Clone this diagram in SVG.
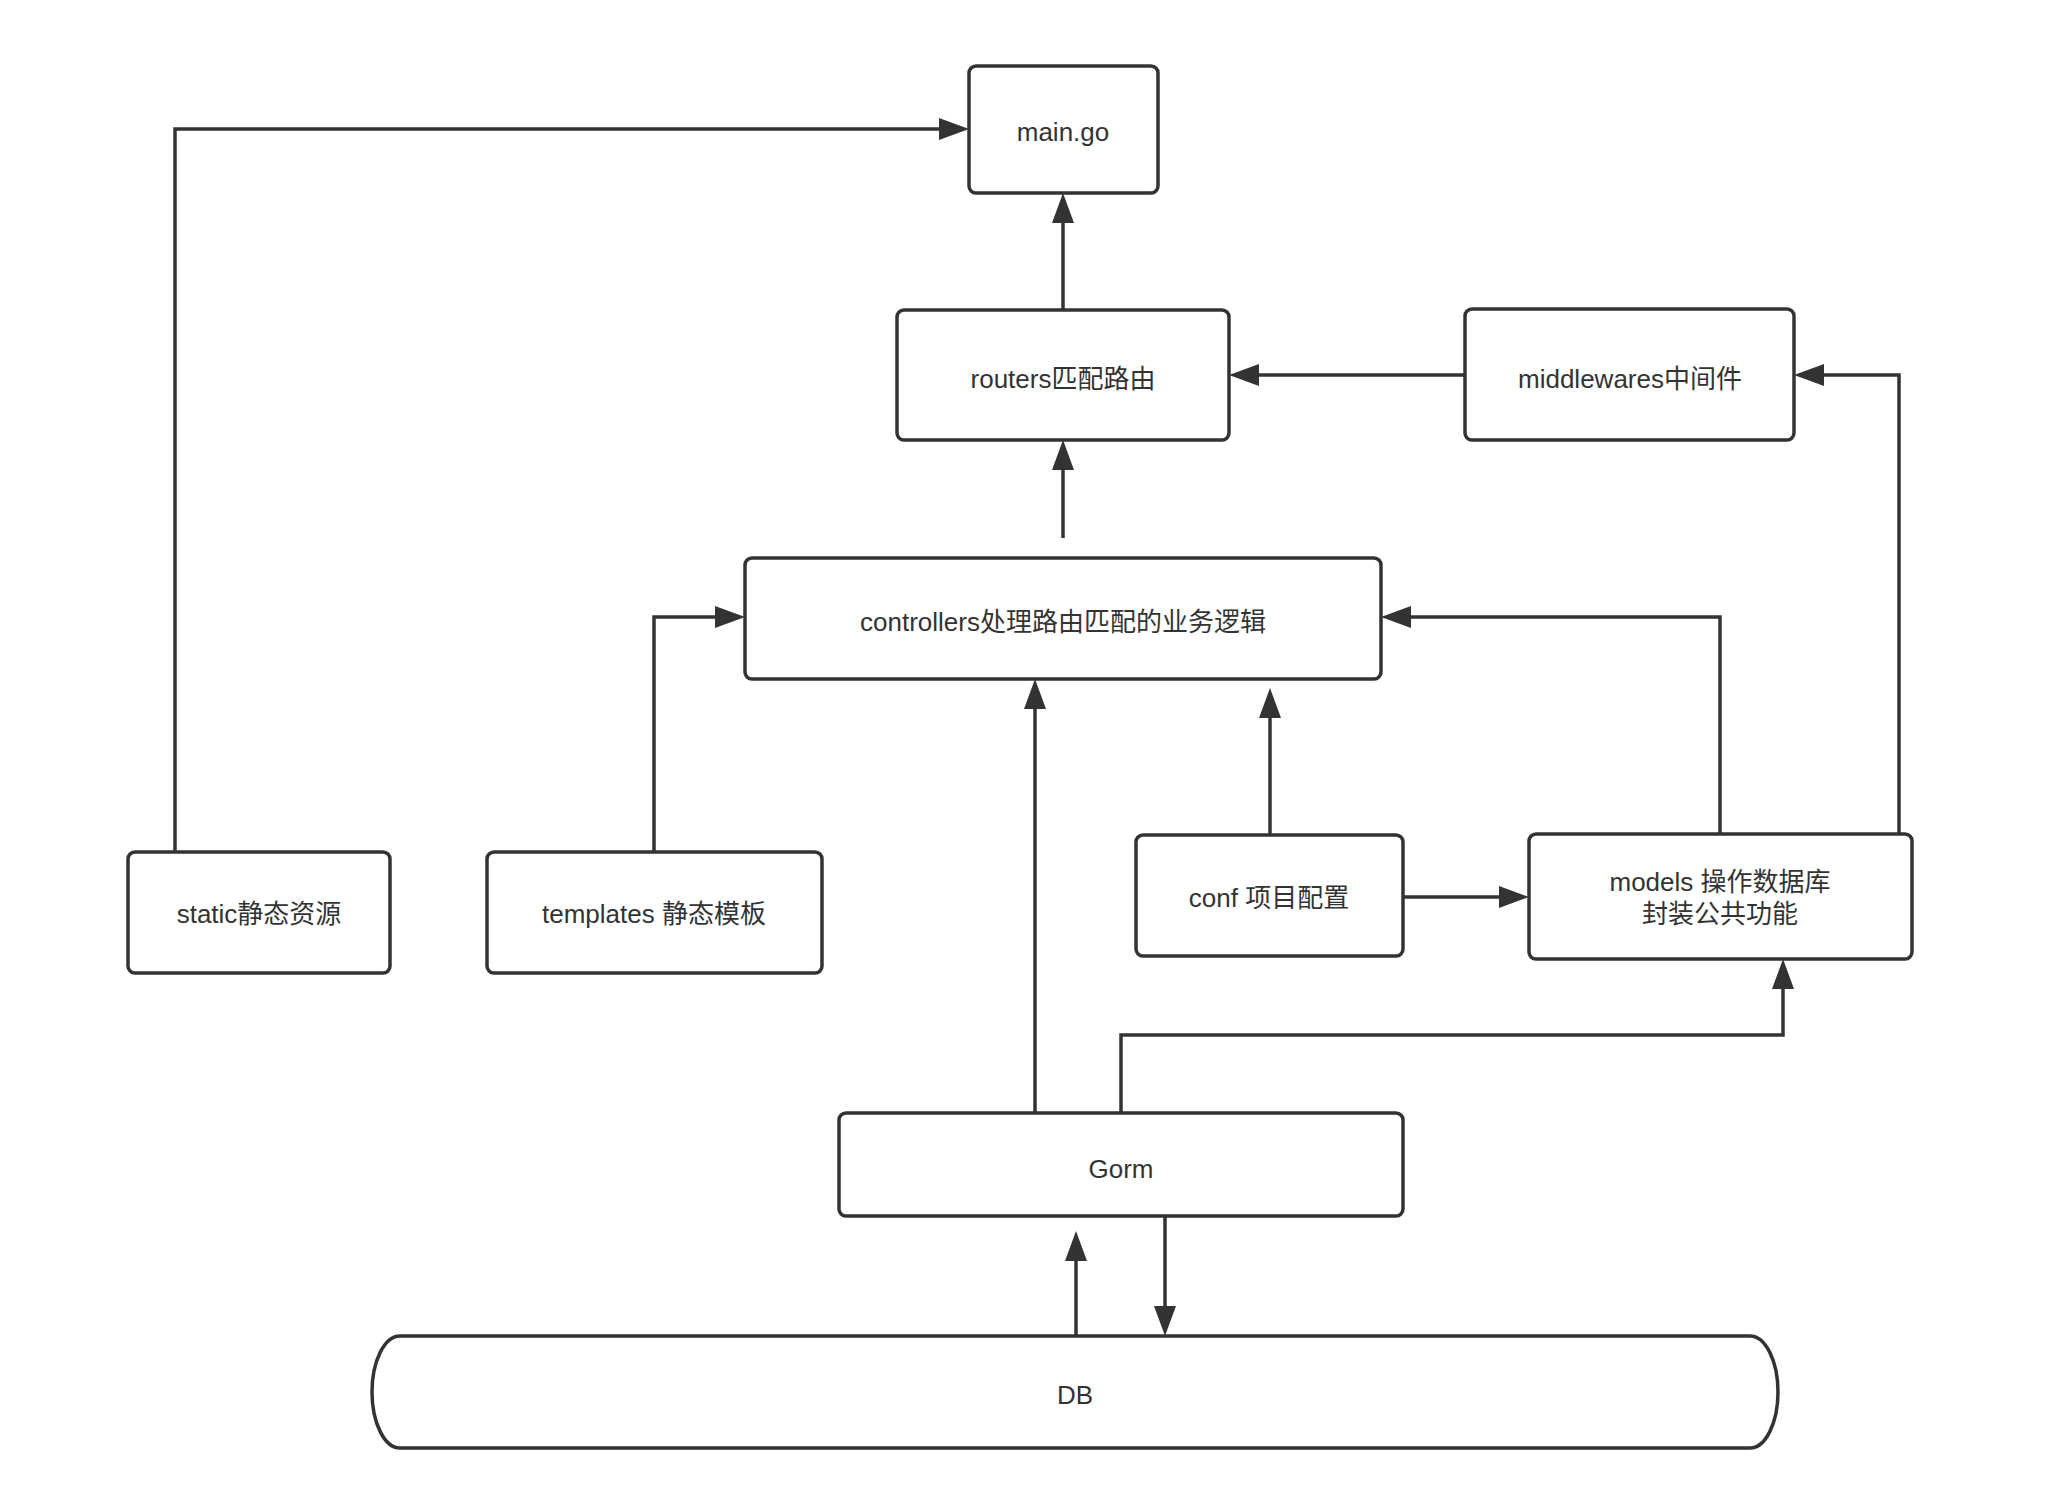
<svg xmlns="http://www.w3.org/2000/svg" width="2068" height="1506" viewBox="0 0 2068 1506">
<style>
.box{fill:#fff;stroke:#333;stroke-width:3.5}
.lbl{font-family:"Liberation Sans","Noto Sans CJK SC",sans-serif;font-size:26px;fill:#333;text-anchor:middle;dominant-baseline:central}
.edge{fill:none;stroke:#333;stroke-width:3.5}
</style>
<defs>
<marker id="ah" markerUnits="userSpaceOnUse" markerWidth="32" markerHeight="24" refX="24" refY="11" orient="auto">
<path d="M0,0 L30,11 L0,22 z" fill="#333"/>
</marker>
</defs>
<rect width="2068" height="1506" fill="#fff"/>
<g id="connectors">
<path class="edge" d="M175,852 V129 H963" marker-end="url(#ah)"/>
<path class="edge" d="M1063,310 V199" marker-end="url(#ah)"/>
<path class="edge" d="M1063,538 V446" marker-end="url(#ah)"/>
<path class="edge" d="M1465,375 H1235" marker-end="url(#ah)"/>
<path class="edge" d="M1899,834 V375 H1800" marker-end="url(#ah)"/>
<path class="edge" d="M654,852 V617 H739" marker-end="url(#ah)"/>
<path class="edge" d="M1720,834 V617 H1387" marker-end="url(#ah)"/>
<path class="edge" d="M1270,835 V694" marker-end="url(#ah)"/>
<path class="edge" d="M1403,897 H1523" marker-end="url(#ah)"/>
<path class="edge" d="M1035,1113 V685" marker-end="url(#ah)"/>
<path class="edge" d="M1121,1113 V1035 H1783 V965" marker-end="url(#ah)"/>
<path class="edge" d="M1076,1336 V1237" marker-end="url(#ah)"/>
<path class="edge" d="M1165,1216 V1330" marker-end="url(#ah)"/>
</g>
<g id="main">
<rect class="box" x="969" y="66" width="189" height="127" rx="7"/>
<text class="lbl" x="1063" y="132">main.go</text>
</g>
<g id="routers">
<rect class="box" x="897" y="310" width="332" height="130" rx="7"/>
<text class="lbl" x="1063" y="379">routers匹配路由</text>
</g>
<g id="middlewares">
<rect class="box" x="1465" y="309" width="329" height="131" rx="7"/>
<text class="lbl" x="1630" y="379">middlewares中间件</text>
</g>
<g id="controllers">
<rect class="box" x="745" y="558" width="636" height="121" rx="7"/>
<text class="lbl" x="1063" y="622">controllers处理路由匹配的业务逻辑</text>
</g>
<g id="static">
<rect class="box" x="128" y="852" width="262" height="121" rx="7"/>
<text class="lbl" x="259" y="914">static静态资源</text>
</g>
<g id="templates">
<rect class="box" x="487" y="852" width="335" height="121" rx="7"/>
<text class="lbl" x="654" y="914">templates 静态模板</text>
</g>
<g id="conf">
<rect class="box" x="1136" y="835" width="267" height="121" rx="7"/>
<text class="lbl" x="1269" y="898">conf 项目配置</text>
</g>
<g id="models">
<rect class="box" x="1529" y="834" width="383" height="125" rx="7"/>
<text class="lbl" x="1720" y="882">models 操作数据库</text>
<text class="lbl" x="1720" y="914">封装公共功能</text>
</g>
<g id="gorm">
<rect class="box" x="839" y="1113" width="564" height="103" rx="7"/>
<text class="lbl" x="1121" y="1169">Gorm</text>
</g>
<g id="db">
<rect class="box" x="372" y="1336" width="1406" height="112" rx="28" ry="56"/>
<text class="lbl" x="1075" y="1395">DB</text>
</g>
</svg>
